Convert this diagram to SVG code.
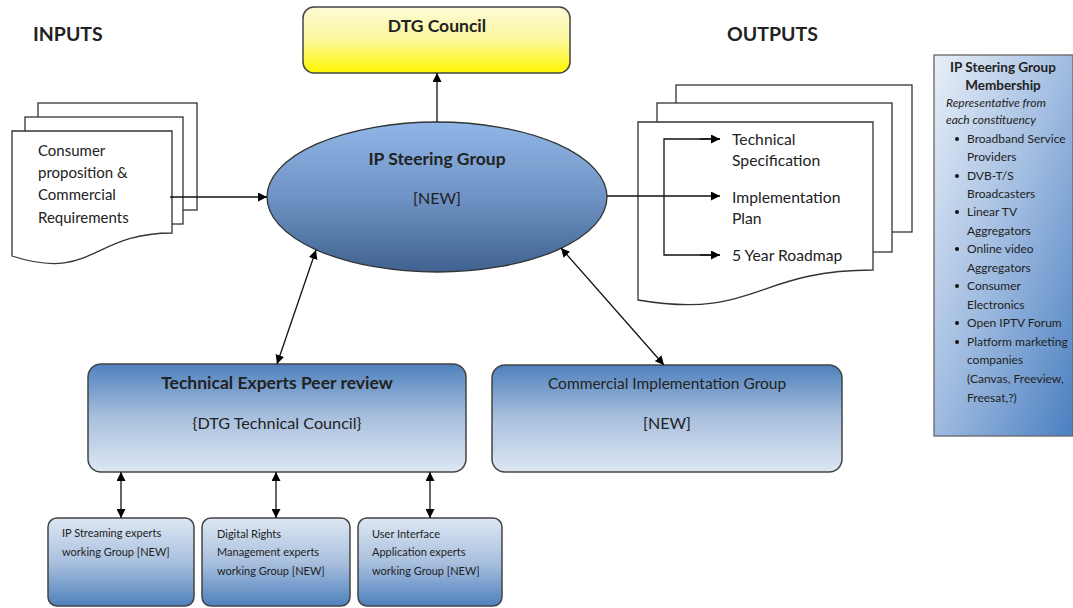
<svg xmlns="http://www.w3.org/2000/svg" width="1073" height="608" viewBox="0 0 1073 608">
<defs>
<linearGradient id="gYellow" x1="0" y1="0" x2="0" y2="1"><stop offset="0" stop-color="#fdfbd8"/><stop offset="0.5" stop-color="#fbf79a"/><stop offset="1" stop-color="#fff700"/></linearGradient>
<linearGradient id="gEll" x1="0" y1="0" x2="0" y2="1"><stop offset="0" stop-color="#8fb6e6"/><stop offset="0.5" stop-color="#6f93c4"/><stop offset="1" stop-color="#3f6290"/></linearGradient>
<linearGradient id="gDown" x1="0" y1="0" x2="0" y2="1"><stop offset="0" stop-color="#4f81bd"/><stop offset="0.5" stop-color="#a9c0de"/><stop offset="1" stop-color="#dde7f3"/></linearGradient>
<linearGradient id="gUp" x1="0" y1="0" x2="0" y2="1"><stop offset="0" stop-color="#dde7f3"/><stop offset="0.5" stop-color="#a9c0de"/><stop offset="1" stop-color="#4f81bd"/></linearGradient>
<linearGradient id="gDiag" x1="0" y1="0" x2="1" y2="1"><stop offset="0" stop-color="#e8eff8"/><stop offset="0.5" stop-color="#9fbbe0"/><stop offset="1" stop-color="#4a7fc0"/></linearGradient>
<marker id="ah" viewBox="0 0 10 10" refX="10" refY="5" markerWidth="9" markerHeight="9" markerUnits="userSpaceOnUse" orient="auto-start-reverse"><path d="M0,0 L10,5 L0,10 Z" fill="#000"/></marker>
<style>
.t{font-family:"Lato","Liberation Sans",sans-serif;fill:#222}
.b{font-weight:bold}
.doc{fill:#fff;stroke:#333;stroke-width:1.3}
.box{stroke:#444;stroke-width:1.5}
.c{stroke:#111;stroke-width:1.3;fill:none}
</style>
</defs>

<text class="t b" x="33" y="41" font-size="19.5">INPUTS</text>
<text class="t b" x="727" y="41" font-size="19.5">OUTPUTS</text>

<g id="dtg-council">
<rect class="box" x="303" y="7" width="267" height="66" rx="11" fill="url(#gYellow)"/>
<text class="t b" x="437" y="32" font-size="17.5" text-anchor="middle">DTG Council</text>
</g>

<g id="inputs">
<rect class="doc" x="38" y="103" width="159" height="107"/>
<rect class="doc" x="25" y="117" width="158" height="107"/>
<path class="doc" d="M12,131 H172 V233 C92,233 92,282 12,256 Z"/>
<text class="t" x="38" y="156" font-size="15">Consumer</text>
<text class="t" x="38" y="178" font-size="15">proposition &amp;</text>
<text class="t" x="38" y="200" font-size="15">Commercial</text>
<text class="t" x="38" y="223" font-size="15">Requirements</text>
</g>

<g id="outputs">
<rect class="doc" x="676" y="85" width="236" height="147"/>
<rect class="doc" x="657" y="103" width="235" height="149"/>
<path class="doc" d="M638,122 H873 V270 C755,270 755,320 638,300 Z"/>
<text class="t" x="732" y="145" font-size="15.7">Technical</text>
<text class="t" x="732" y="166" font-size="15.7">Specification</text>
<text class="t" x="732" y="203" font-size="15.7">Implementation</text>
<text class="t" x="732" y="224" font-size="15.7">Plan</text>
<text class="t" x="732" y="261" font-size="15.7">5 Year Roadmap</text>
</g>

<g id="ip-steering-group">
<ellipse cx="437" cy="197" rx="170" ry="75" fill="url(#gEll)" stroke="#333" stroke-width="1.3"/>
<text class="t b" x="437" y="165" font-size="17.5" text-anchor="middle">IP Steering Group</text>
<text class="t" x="437" y="204" font-size="16" text-anchor="middle">[NEW]</text>
</g>

<g id="membership">
<rect x="934" y="55" width="139" height="381" fill="url(#gDiag)" stroke="#666" stroke-width="1.3"/>
<g class="t" font-size="12">
<text class="b" x="1003" y="72" text-anchor="middle" font-size="13.5">IP Steering Group</text>
<text class="b" x="1003" y="90" text-anchor="middle" font-size="13.5">Membership</text>
<text x="946" y="107" font-style="italic">Representative from</text>
<text x="946" y="124" font-style="italic">each constituency</text>
<text x="967" y="143">Broadband Service</text>
<text x="967" y="161">Providers</text>
<text x="967" y="180">DVB-T/S</text>
<text x="967" y="198">Broadcasters</text>
<text x="967" y="216">Linear TV</text>
<text x="967" y="235">Aggregators</text>
<text x="967" y="253">Online video</text>
<text x="967" y="272">Aggregators</text>
<text x="967" y="290">Consumer</text>
<text x="967" y="309">Electronics</text>
<text x="967" y="327">Open IPTV Forum</text>
<text x="967" y="346">Platform marketing</text>
<text x="967" y="364">companies</text>
<text x="967" y="383">(Canvas, Freeview,</text>
<text x="967" y="402">Freesat,?)</text>
</g>
<g fill="#111">
<circle cx="957" cy="139" r="2"/>
<circle cx="957" cy="176" r="2"/>
<circle cx="957" cy="212" r="2"/>
<circle cx="957" cy="249" r="2"/>
<circle cx="957" cy="286" r="2"/>
<circle cx="957" cy="323" r="2"/>
<circle cx="957" cy="342" r="2"/>
</g>
</g>

<g id="technical-experts">
<rect class="box" x="88" y="364" width="378" height="108" rx="13" fill="url(#gDown)"/>
<text class="t b" x="277" y="389" font-size="17.5" text-anchor="middle">Technical Experts Peer review</text>
<text class="t" x="277" y="429" font-size="16.2" text-anchor="middle">{DTG Technical Council}</text>
</g>

<g id="commercial-implementation">
<rect class="box" x="492" y="365" width="350" height="107" rx="13" fill="url(#gDown)"/>
<text class="t" x="667" y="389" font-size="15.5" text-anchor="middle">Commercial Implementation Group</text>
<text class="t" x="667" y="429" font-size="16" text-anchor="middle">[NEW]</text>
</g>

<g id="ip-streaming">
<rect class="box" x="48" y="518" width="146" height="88" rx="9" fill="url(#gUp)"/>
<text class="t" x="62" y="537" font-size="11">IP Streaming experts</text>
<text class="t" x="62" y="556" font-size="11">working Group [NEW]</text>
</g>

<g id="drm">
<rect class="box" x="202" y="518" width="148" height="88" rx="9" fill="url(#gUp)"/>
<text class="t" x="217" y="538" font-size="11">Digital Rights</text>
<text class="t" x="217" y="556" font-size="11">Management experts</text>
<text class="t" x="217" y="575" font-size="11">working Group [NEW]</text>
</g>

<g id="user-interface">
<rect class="box" x="358" y="518" width="144" height="88" rx="9" fill="url(#gUp)"/>
<text class="t" x="372" y="538" font-size="11">User Interface</text>
<text class="t" x="372" y="556" font-size="11">Application experts</text>
<text class="t" x="372" y="575" font-size="11">working Group [NEW]</text>
</g>

<g id="connectors">
<line class="c" x1="437" y1="122" x2="437" y2="73" marker-end="url(#ah)"/>
<line class="c" x1="170" y1="197" x2="267" y2="197" marker-end="url(#ah)"/>
<line class="c" x1="607" y1="196" x2="720" y2="196" marker-end="url(#ah)"/>
<polyline class="c" points="720,139 664,139 664,255 720,255"/>
<line class="c" x1="700" y1="139" x2="720" y2="139" marker-end="url(#ah)"/>
<line class="c" x1="700" y1="255" x2="720" y2="255" marker-end="url(#ah)"/>
<line class="c" x1="316" y1="250" x2="277" y2="364" marker-start="url(#ah)" marker-end="url(#ah)"/>
<line class="c" x1="561" y1="248" x2="664" y2="365" marker-start="url(#ah)" marker-end="url(#ah)"/>
<line class="c" x1="121" y1="472" x2="121" y2="518" marker-start="url(#ah)" marker-end="url(#ah)"/>
<line class="c" x1="276" y1="472" x2="276" y2="518" marker-start="url(#ah)" marker-end="url(#ah)"/>
<line class="c" x1="430" y1="472" x2="430" y2="518" marker-start="url(#ah)" marker-end="url(#ah)"/>
</g>
</svg>
